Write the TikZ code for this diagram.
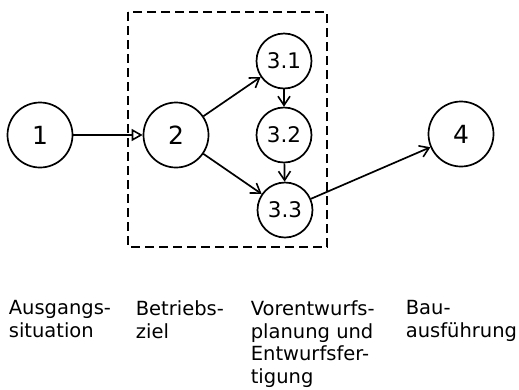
\documentclass[tikz,border=0pt]{standalone}
\usepackage{fontspec}
\setmainfont{DejaVu Sans}
\usetikzlibrary{arrows.meta}
\begin{document}
\begin{tikzpicture}[x=1pt,y=-1pt,line width=1.7pt,
  bignode/.style={circle,draw,minimum size=65pt,inner sep=0pt,font=\fontsize{25}{25}\selectfont},
  subnode/.style={circle,draw,minimum size=55pt,inner sep=0pt,font=\fontsize{21.5}{21.5}\selectfont},
  barb/.style={-{Straight Barb[length=9pt,width=12pt,line width=1.6pt]}},
  lbl/.style={anchor=north west,align=left,inner sep=0pt,font=\fontsize{19.5}{22.7}\selectfont},
  frame/.style={dash pattern=on 9pt off 5pt,line width=1.5pt}]
\useasboundingbox (0,0) rectangle (519,389);
\draw[frame] (128,12) rectangle (327,247);
\node[bignode] (n1) at (40,135) {1};
\node[bignode] (n2) at (176,135) {2};
\node[subnode] (n31) at (284,61) {3.1};
\node[subnode] (n32) at (284,135) {3.2};
\node[subnode] (n33) at (285,210) {3.3};
\node[bignode] (n4) at (461,134) {4};
\draw[-{Triangle[open,length=11pt,width=12pt,line width=1.6pt]}] (n1) -- (n2);
\draw[barb] (n2) -- (n31);
\draw[barb] (n2) -- (n33);
\draw[barb] (n31) -- (n32);
\draw[barb] (n32) -- (n33);
\draw[barb] (n33) -- (n4);
\node[lbl] (l1) at (8,299.8) {Ausgangs-\\situation};
\node[lbl] (l2) at (135,299.8) {Betriebs-\\ziel};
\node[lbl] (l3) at (250,299.8) {Vorentwurfs-\\planung und\\Entwurfsfer-\\tigung};
\node[lbl] (l4) at (405,299.8) {Bau-\\ausführung};
\end{tikzpicture}
\end{document}
